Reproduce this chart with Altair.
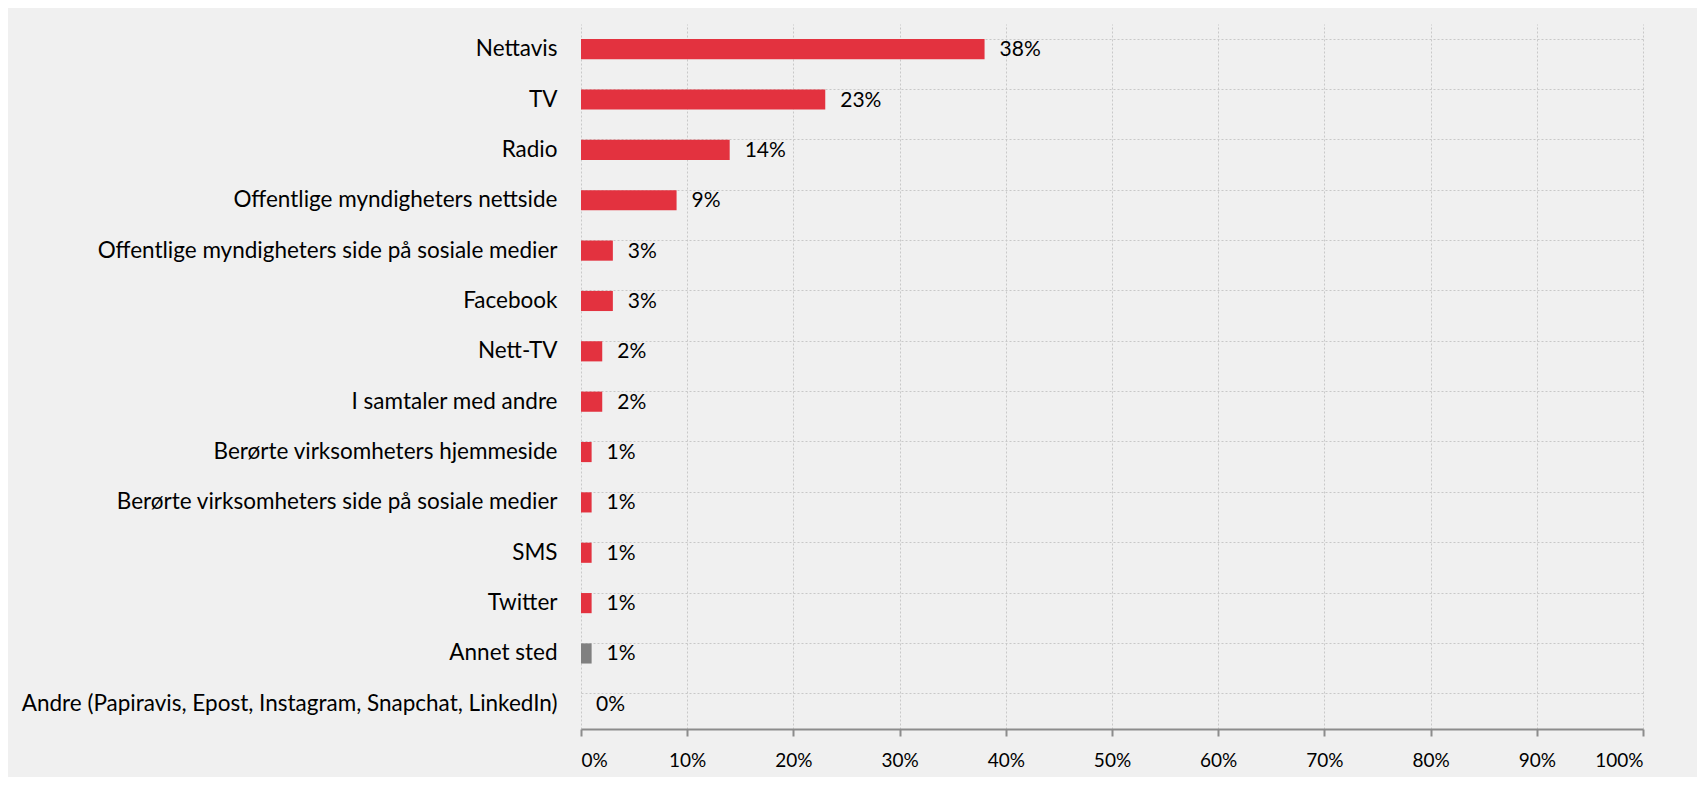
import altair as alt
import pandas as pd

categories = ["Nettavis", "TV", "Radio", "Offentlige myndigheters nettside",
              "Offentlige myndigheters side på sosiale medier", "Facebook", "Nett-TV",
              "I samtaler med andre", "Berørte virksomheters hjemmeside",
              "Berørte virksomheters side på sosiale medier", "SMS", "Twitter",
              "Annet sted", "Andre (Papiravis, Epost, Instagram, Snapchat, LinkedIn)"]
values = [38, 23, 14, 9, 3, 3, 2, 2, 1, 1, 1, 1, 1, 0]
x_ticks = [0, 10, 20, 30, 40, 50, 60, 70, 80, 90, 100]

df = pd.DataFrame({"kategori": categories, "verdi": values})
df["etikett"] = df["verdi"].astype(str) + "%"

FONT = "Lato"

y_enc = alt.Y("kategori:N", sort=categories, title=None,
              scale=alt.Scale(paddingInner=0.6, paddingOuter=0.3),
              axis=alt.Axis(ticks=False, domain=False, labelFontSize=22.5, labelFont=FONT,
                            labelColor="#000000", labelPadding=24, labelLimit=800,
                            grid=True, bandPosition=0, gridDash=[2, 2],
                            gridColor="#c8c8c8", gridWidth=1))
x_enc = alt.X("verdi:Q", title=None,
              scale=alt.Scale(domain=[0, 100], nice=False),
              axis=alt.Axis(values=x_ticks, labelExpr="datum.value + '%'",
                            labelFontSize=19, labelFont=FONT, labelColor="#000000",
                            labelPadding=15, tickSize=7, tickColor="#8c8c8c",
                            domainColor="#8c8c8c", domainWidth=2, tickWidth=2,
                            grid=True, gridDash=[2, 2], gridColor="#c8c8c8", gridWidth=1))

bars = alt.Chart(df).mark_bar().encode(
    y=y_enc, x=x_enc,
    color=alt.condition(alt.datum.kategori == "Annet sted", alt.value("#808080"), alt.value("#e3323f")),
)

labels = alt.Chart(df).mark_text(align="left", baseline="middle", dx=15, dy=1,
                                 fontSize=21, font=FONT, color="#000000").encode(
    y=alt.Y("kategori:N", sort=categories),
    x="verdi:Q",
    text="etikett:N",
)

chart = (bars + labels).properties(
    width=1062, height=705,
    background="#f0f0f0",
    padding={"left": 573, "top": 16, "right": 54, "bottom": 48},
    autosize=alt.AutoSizeParams(type="none"),
).configure_view(stroke=None)

chart.save("out.html", embed_options={"renderer": "svg", "actions": False})
